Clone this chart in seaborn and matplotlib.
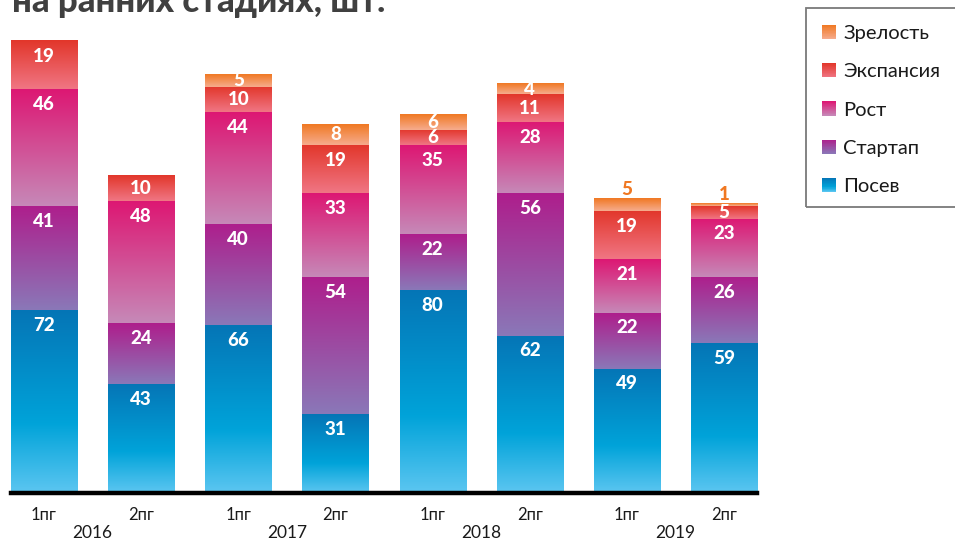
import numpy as np
import pandas as pd
import matplotlib
matplotlib.use("Agg")
import matplotlib.pyplot as plt
import seaborn as sns
from matplotlib.colors import LinearSegmentedColormap
from matplotlib.patches import Rectangle
from matplotlib.legend_handler import HandlerBase

# ---- data ----
years = ["2016", "2017", "2018", "2019"]
halves = ["1пг", "2пг"]
periods = [f"{y} {h}" for y in years for h in halves]
series_names = ["Посев", "Стартап", "Рост", "Экспансия", "Зрелость"]
seed = [72, 43, 66, 31, 80, 62, 49, 59]
startup = [41, 24, 40, 54, 22, 56, 22, 26]
growth = [46, 48, 44, 33, 35, 28, 21, 23]
expansion = [19, 10, 10, 19, 6, 11, 19, 5]
maturity = [0, 0, 5, 8, 6, 4, 5, 1]
values = [seed, startup, growth, expansion, maturity]
title = "на ранних стадиях, шт."

# ---- styles ----
grad_stops = {
    "Посев": [(0.0, "#0575B6"), (0.62, "#00A3D9"), (1.0, "#5CC6F1")],
    "Стартап": [(0.0, "#AE1E8C"), (1.0, "#8A78B8")],
    "Рост": [(0.0, "#DD1773"), (1.0, "#C689B8")],
    "Экспансия": [(0.0, "#E2362A"), (1.0, "#F07684")],
    "Зрелость": [(0.0, "#F07822"), (1.0, "#F6AC8E")],
}
cmaps = {k: LinearSegmentedColormap.from_list(k, v) for k, v in grad_stops.items()}
outside_labels = {(6, "Зрелость"), (7, "Зрелость")}

sns.set_theme(style="white")
plt.rcParams["font.family"] = ["Lato", "Noto Sans", "DejaVu Sans"]

df = pd.DataFrame({"period": periods, **{n: v for n, v in zip(series_names, values)}})

fig = plt.figure(figsize=(9.55, 5.41), dpi=100)
ax = fig.add_axes([11 / 955, 48 / 541, 746 / 955, 493 / 541])

grad = np.linspace(0, 1, 256).reshape(-1, 1)
bottom = np.zeros(len(periods))
for name, vals in zip(series_names, values):
    before = len(ax.patches)
    sns.barplot(data=df, x="period", y=name, order=periods, bottom=bottom.copy(),
                width=0.68, color=grad_stops[name][0][1], saturation=1,
                errorbar=None, ax=ax)
    new = ax.patches[before:]
    for i, (p, v) in enumerate(zip(new, vals)):
        x0, w, y0, h = p.get_x(), p.get_width(), p.get_y(), p.get_height()
        p.set_facecolor("none")
        p.set_edgecolor("none")
        if h <= 0:
            continue
        ax.imshow(grad, cmap=cmaps[name], extent=(x0, x0 + w, y0, y0 + h),
                  aspect="auto", origin="upper", zorder=2, interpolation="bilinear")
        top = y0 + h
        if (i, name) in outside_labels:
            ax.text(x0 + w / 2, top + 3.6, str(v), ha="center", va="center",
                    color="#F07822", fontweight="black", fontsize=13.5, zorder=5)
        else:
            ly = top - min(h / 2, 6.0)
            ax.text(x0 + w / 2, ly, str(v), ha="center", va="center",
                    color="white", fontweight="black", fontsize=13.5, zorder=5)
    bottom += np.array(vals)

ax.set_xlim(-0.34, len(periods) - 1 + 0.34)
ax.set_ylim(0, 194.1)
for s in ["top", "left", "right"]:
    ax.spines[s].set_visible(False)
ax.spines["bottom"].set_linewidth(3.2)
ax.spines["bottom"].set_color("black")
ax.spines["bottom"].set_zorder(4)
ax.set_xticks(range(len(periods)))
ax.set_xticklabels(halves * len(years), fontsize=12, color="#1a1a1a")
ax.tick_params(axis="x", length=0, pad=10)
ax.set_yticks([])
ax.set_xlabel("")
ax.set_ylabel("")

for i, y in enumerate(years):
    ax.annotate(y, xy=(2 * i + 0.5, 0), xycoords=("data", "axes fraction"),
                xytext=(0, -32), textcoords="offset pixels", ha="center", va="top",
                fontsize=12.5, color="#1a1a1a")

fig.text(12 / 955, 1 - 12 / 541, title, ha="left", va="baseline",
         fontsize=25, fontweight="black", color="#404040")


class GradHandler(HandlerBase):
    def __init__(self, cmap):
        super().__init__()
        self.cmap = cmap

    def create_artists(self, legend, orig_handle, xdescent, ydescent, width, height,
                       fontsize, trans):
        n = 24
        arts = []
        for k in range(n):
            c = self.cmap((k + 0.5) / n)
            r = Rectangle((-xdescent, -ydescent + height * (1 - (k + 1) / n)), width,
                          height / n * 1.05, facecolor=c, edgecolor="none", transform=trans)
            arts.append(r)
        return arts


handles, labels, hmap = [], [], {}
for name in reversed(series_names):
    h = Rectangle((0, 0), 1, 1)
    handles.append(h)
    labels.append(name)
    hmap[h] = GradHandler(cmaps[name])

fig.add_artist(Rectangle((806 / 955, 1 - 207 / 541), (965 - 806) / 955, (207 - 8) / 541,
                         transform=fig.transFigure, fill=False, edgecolor="#7a7a7a",
                         linewidth=1.3))
leg = fig.legend(handles, labels, handler_map=hmap, loc="upper left",
                 bbox_to_anchor=(822 / 955, 1 - 25 / 541), frameon=False, fontsize=14.5,
                 handlelength=0.7, handleheight=0.7, handletextpad=0.35,
                 labelspacing=1.05, borderpad=0, borderaxespad=0)
for t in leg.get_texts():
    t.set_color("#1a1a1a")

fig.savefig("out.png", dpi=100)
